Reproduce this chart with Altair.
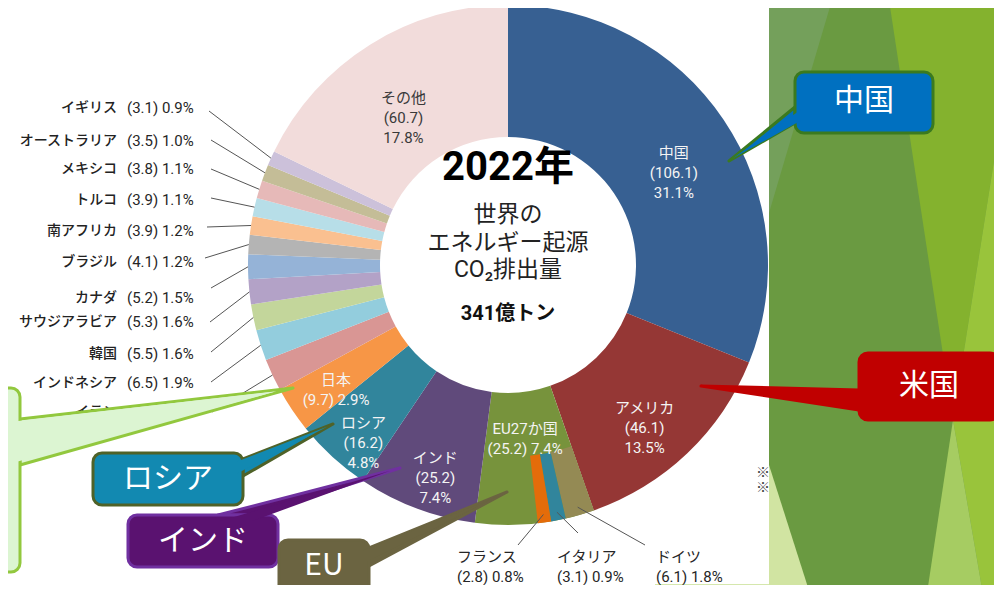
import math
import altair as alt
import pandas as pd

# ---------------- data ----------------
countries = ["中国", "アメリカ", "EU27か国", "インド", "ロシア", "日本", "イラン",
             "インドネシア", "韓国", "サウジアラビア", "カナダ", "ブラジル", "南アフリカ",
             "トルコ", "メキシコ", "オーストラリア", "イギリス", "その他"]
emissions = [106.1, 46.1, 25.2, 25.2, 16.2, 9.7, 6.9, 6.5, 5.5, 5.3, 5.2, 4.1, 3.9,
             3.9, 3.8, 3.5, 3.1, 60.7]
shares = ["31.1%", "13.5%", "7.4%", "7.4%", "4.8%", "2.9%", "2.0%", "1.9%", "1.6%",
          "1.6%", "1.5%", "1.2%", "1.2%", "1.1%", "1.1%", "1.0%", "0.9%", "17.8%"]
slice_colors = ["#376092", "#953735", "#77933c", "#604a7b", "#31859c", "#f79646",
                "#d99694", "#93cddd", "#c3d69b", "#b3a2c7", "#95b3d7", "#b4b4b4",
                "#fac090", "#b7dee8", "#e6b9b8", "#c4bd97", "#ccc1da", "#f2dcdb"]

eu_members = ["ドイツ", "イタリア", "フランス"]
eu_emissions = [6.1, 3.1, 2.8]
eu_shares = ["1.8%", "0.9%", "0.8%"]
eu_colors = ["#948a54", "#31859c", "#e46c0a"]

year_title = "2022年"
center_lines = ["世界の", "エネルギー起源", "CO₂排出量"]
total_label = "341億トン"
note_marks = ["※", "※"]

callout_texts = ["中国", "米国", "", "ロシア", "インド", "EU"]

TOTAL = round(sum(emissions), 1)
EU_OFFSET = round(emissions[0] + emissions[1], 1)

# ---------------- layout ----------------
OFF = 8
CX, CY = 508, 265
R_OUT, R_IN, R_EU = 260, 128, 192
FONT = "Roboto, 'Noto Sans CJK JP', sans-serif"
JFONT = "'Noto Sans CJK JP', sans-serif"
LBL = 15

inner_radius = {"中国": 200, "アメリカ": 198, "EU27か国": 165, "インド": 206,
                "ロシア": 214, "日本": 207, "その他": 197}
two_line = {"EU27か国", "日本"}
outer_y = {"イラン": 412, "インドネシア": 383, "韓国": 354, "サウジアラビア": 322,
           "カナダ": 298, "ブラジル": 262, "南アフリカ": 231, "トルコ": 200,
           "メキシコ": 169, "オーストラリア": 141, "イギリス": 108}
leader_from = {"イラン": (212, 412), "インドネシア": (211, 382), "韓国": (211, 352),
               "サウジアラビア": (210, 322), "カナダ": (211, 288), "ブラジル": (205, 258),
               "南アフリカ": (207, 227), "トルコ": (211, 198), "メキシコ": (211, 169),
               "オーストラリア": (211, 140), "イギリス": (209, 111)}
eu_label_x = {"ドイツ": 656, "イタリア": 557, "フランス": 457}
eu_leader_from = {"ドイツ": (645, 545), "イタリア": (578, 533), "フランス": (518, 545)}

XS = alt.Scale(domain=[OFF, 1002 - OFF], nice=False, zero=False)
YS = alt.Scale(domain=[OFF, 593 - OFF], nice=False, zero=False, reverse=True)
TS = alt.Scale(domain=[0, TOTAL], range=[0, 2 * math.pi], nice=False, zero=False)


def X(f):
    return alt.X(f, scale=XS, axis=None)


def Y(f):
    return alt.Y(f, scale=YS, axis=None)


PROJ = dict(type="identity", scale=1, translate=[-OFF, -OFF])

# ---------------- tables ----------------
rows = []
for i, (n, v, s, c) in enumerate(zip(countries, emissions, shares, slice_colors)):
    r = dict(name=n, value=v, share=s, color=c, order=i)
    if n in inner_radius:
        r["lr"] = inner_radius[n]
        r["label"] = f"{n}\n({v}) {s}" if n in two_line else f"{n}\n({v})\n{s}"
        r["tc"] = "#3a3a3a" if n == "その他" else "#f4f4f4"
    if n in outer_y:
        r["oy"] = outer_y[n]
        r["sx"], r["sy"] = leader_from[n]
        r["vt"] = f"({v}) {s}"
    rows.append(r)
df = pd.DataFrame(rows)

eu_rows = []
for i, (n, v, s, c) in enumerate(zip(eu_members, eu_emissions, eu_shares, eu_colors)):
    sx, sy = eu_leader_from[n]
    eu_rows.append(dict(name=n, value=v, color=c, order=i, tx=eu_label_x[n],
                        sx=sx, sy=sy, label=f"{n}\n({v}) {s}"))
df_eu = pd.DataFrame(eu_rows)

base = alt.Chart(df).transform_window(
    cum="sum(value)", sort=[alt.SortField("order")]
).transform_calculate(
    start="datum.cum - datum.value",
    ang=f"(datum.cum - datum.value / 2) / {TOTAL} * 2 * PI",
)

donut = base.mark_arc(radius=R_OUT, radius2=R_IN).encode(
    theta=alt.Theta("start:Q", scale=TS, stack=False),
    theta2="cum:Q",
    fill=alt.Fill("color:N", scale=None),
    x=alt.value(CX - OFF), y=alt.value(CY - OFF),
)

inner_labels = base.transform_filter("datum.lr > 0").transform_calculate(
    lx=f"{CX} + datum.lr * sin(datum.ang)",
    ly=f"{CY} - datum.lr * cos(datum.ang)",
).mark_text(font=FONT, fontSize=LBL, lineBreak="\n", lineHeight=20,
            align="center", baseline="middle").encode(
    x=X("lx:Q"), y=Y("ly:Q"), text="label:N", fill=alt.Fill("tc:N", scale=None))

outer = base.transform_filter("datum.oy > 0").transform_calculate(
    ex=f"{CX} + {R_OUT} * sin(datum.ang)",
    ey=f"{CY} - {R_OUT} * cos(datum.ang)",
)
leaders = outer.mark_rule(color="#555555", strokeWidth=1).encode(
    x=X("sx:Q"), y=Y("sy:Q"), x2="ex:Q", y2="ey:Q")
outer_names = outer.mark_text(font=FONT, fontSize=14, fontWeight=500, align="right",
                              baseline="middle", color="#222222").encode(
    x=alt.value(117 - OFF), y=Y("oy:Q"), text="name:N")
outer_vals = outer.mark_text(font=FONT, fontSize=LBL, align="left", baseline="middle",
                             color="#262626").encode(
    x=alt.value(127 - OFF), y=Y("oy:Q"), text="vt:N")

eu_base = alt.Chart(df_eu).transform_window(
    cum="sum(value)", sort=[alt.SortField("order")]
).transform_calculate(
    start=f"{EU_OFFSET} + datum.cum - datum.value",
    end=f"{EU_OFFSET} + datum.cum",
    ang=f"({EU_OFFSET} + datum.cum - datum.value / 2) / {TOTAL} * 2 * PI",
)
eu_arcs = eu_base.mark_arc(radius=R_OUT, radius2=R_EU).encode(
    theta=alt.Theta("start:Q", scale=TS, stack=False),
    theta2="end:Q",
    fill=alt.Fill("color:N", scale=None),
    x=alt.value(CX - OFF), y=alt.value(CY - OFF),
)
eu_leaders = eu_base.transform_calculate(
    ex=f"{CX} + 252 * sin(datum.ang)", ey=f"{CY} - 252 * cos(datum.ang)"
).mark_rule(color="#555555", strokeWidth=1).encode(
    x=X("sx:Q"), y=Y("sy:Q"), x2="ex:Q", y2="ey:Q")
eu_labels = eu_base.mark_text(font=FONT, fontSize=LBL, align="left", baseline="middle",
                              lineBreak="\n", lineHeight=20, color="#262626").encode(
    x=X("tx:Q"), y=alt.value(557 - OFF), text="label:N")

# centre text
year_txt = alt.Chart(pd.DataFrame({"t": [year_title]})).mark_text(
    font=FONT, fontSize=40, fontWeight="bold", color="#000000", align="center",
    baseline="middle").encode(text="t:N", x=alt.value(CX - OFF), y=alt.value(168 - OFF))
centre_txt = alt.Chart(pd.DataFrame({"t": center_lines, "ty": [215, 243, 270]})).mark_text(
    font=FONT, fontSize=23, color="#222222", align="center", baseline="middle").encode(
    text="t:N", x=alt.value(CX - OFF), y=Y("ty:Q"))
total_txt = alt.Chart(pd.DataFrame({"t": [total_label]})).mark_text(
    font=FONT, fontSize=20, fontWeight="bold", color="#111111", align="center",
    baseline="middle").encode(text="t:N", x=alt.value(CX - OFF), y=alt.value(314 - OFF))
notes = alt.Chart(pd.DataFrame({"t": note_marks, "ty": [473, 488]})).mark_text(
    font=FONT, fontSize=14, color="#444444", align="center", baseline="middle").encode(
    text="t:N", x=alt.value(763 - OFF), y=Y("ty:Q"))


# ---------------- decoration polygons ----------------
def poly(pts, fill, stroke=None):
    ring = [list(p) for p in pts] + [list(pts[0])]
    return {"type": "Feature",
            "geometry": {"type": "Polygon", "coordinates": [ring]},
            "properties": {"fill": fill, "stroke": stroke or fill}}


background = [
    poly([(769, 0), (1010, 0), (1010, 600), (769, 600)], "#6a9a41"),
    poly([(769, 0), (832, 0), (769, 213)], "#74a05b"),
    poly([(889, 0), (1010, 0), (1010, 60), (953, 420)], "#84b22e"),
    poly([(1010, 60), (1010, 600), (984, 600), (953, 420)], "#99c43b"),
    poly([(953, 420), (926, 600), (984, 600)], "#a6cc62"),
    poly([(769, 465), (769, 600), (812, 600)], "#d1e4a2"),
    poly([(655, 584), (769, 584), (769, 600), (655, 600)], "#d5e7ad"),
]
bg_layer = alt.Chart(alt.Data(values=background)).mark_geoshape(strokeWidth=0).encode(
    fill=alt.Fill("properties.fill:N", scale=None)).project(**PROJ)

# callouts: box (x1, y1, x2, y2), fill, stroke, text pos, pointer base (2 pts), tip, inward dir
callouts = [
    dict(box=(795, 72, 933, 133), fill="#0070c0", stroke="#3b7a1f", tp=(864, 101),
         base=[(795, 107), (795, 123)], tip=(729, 161), inward=(1, 0)),
    dict(box=(859, 353, 999, 420), fill="#c00000", stroke="#c00000", tp=(929, 386),
         base=[(859, 390), (859, 410)], tip=(701, 386), inward=(1, 0)),
    dict(box=(-40, 388, 20, 572), fill="#dcf5d2", stroke="#92c83e", tp=(-10, 480),
         base=[(20, 419), (20, 465)], tip=(293, 388), inward=(-1, 0)),
    dict(box=(93, 453, 243, 505), fill="#1289b1", stroke="#4f6228", tp=(168, 479),
         base=[(243, 459), (243, 476)], tip=(333, 424), inward=(-1, 0)),
    dict(box=(128, 515, 278, 567), fill="#5a1270", stroke="#7030a0", tp=(203, 541),
         base=[(218, 515), (255, 515)], tip=(400, 468), inward=(0, 1)),
    dict(box=(279, 540, 369, 620), fill="#6b6441", stroke="#6b6441", tp=(324, 566),
         base=[(369, 548), (369, 566)], tip=(507, 492), inward=(-1, 0)),
]

ptr_outline, ptr_cover, box_rows, txt_rows = [], [], [], []
for c, t in zip(callouts, callout_texts):
    (bx1, by1), (bx2, by2) = c["base"]
    tx, ty = c["tip"]
    ix, iy = c["inward"]
    ptr_outline.append(poly([(bx1, by1), (bx2, by2), (tx, ty)], c["fill"], c["stroke"]))
    # narrowed copy pushed into the box to hide the box border at the join
    ux, uy = (bx2 - bx1), (by2 - by1)
    ln = math.hypot(ux, uy)
    ux, uy = ux / ln * 2.5, uy / ln * 2.5
    mx, my = (bx1 + bx2) / 2, (by1 + by2) / 2
    ptr_cover.append(poly([(bx1 + ux + 6 * ix, by1 + uy + 6 * iy),
                           (bx2 - ux + 6 * ix, by2 - uy + 6 * iy),
                           (tx + 0.06 * (mx - tx), ty + 0.06 * (my - ty))], c["fill"]))
    x1, y1, x2, y2 = c["box"]
    box_rows.append(dict(x1=x1, y1=y1, x2=x2, y2=y2, fill=c["fill"], stroke=c["stroke"]))
    if t:
        txt_rows.append(dict(t=t, x=c["tp"][0], y=c["tp"][1]))

outline_layer = alt.Chart(alt.Data(values=ptr_outline)).mark_geoshape(
    strokeWidth=3, strokeJoin="round").encode(
    fill=alt.Fill("properties.fill:N", scale=None),
    stroke=alt.Stroke("properties.stroke:N", scale=None)).project(**PROJ)
box_layer = alt.Chart(pd.DataFrame(box_rows)).mark_rect(cornerRadius=9, strokeWidth=3).encode(
    x=X("x1:Q"), x2="x2:Q", y=Y("y1:Q"), y2="y2:Q",
    fill=alt.Fill("fill:N", scale=None), stroke=alt.Stroke("stroke:N", scale=None))
cover_layer = alt.Chart(alt.Data(values=ptr_cover)).mark_geoshape(strokeWidth=0).encode(
    fill=alt.Fill("properties.fill:N", scale=None)).project(**PROJ)
callout_txt = alt.Chart(pd.DataFrame(txt_rows)).mark_text(
    font=JFONT, fontSize=30, color="#ffffff", align="center", baseline="middle").encode(
    x=X("x:Q"), y=Y("y:Q"), text="t:N")

chart = alt.layer(
    notes, bg_layer, donut, eu_arcs, inner_labels, leaders, outer_names, outer_vals,
    eu_leaders, eu_labels, year_txt, centre_txt, total_txt,
    outline_layer, box_layer, cover_layer, callout_txt,
).properties(
    width=1002 - 2 * OFF, height=593 - 2 * OFF, padding=0,
    autosize=alt.AutoSizeParams(type="none"), background="#ffffff",
).configure_view(strokeWidth=0)

chart.save("out.html", embed_options={"renderer": "svg", "actions": False})
